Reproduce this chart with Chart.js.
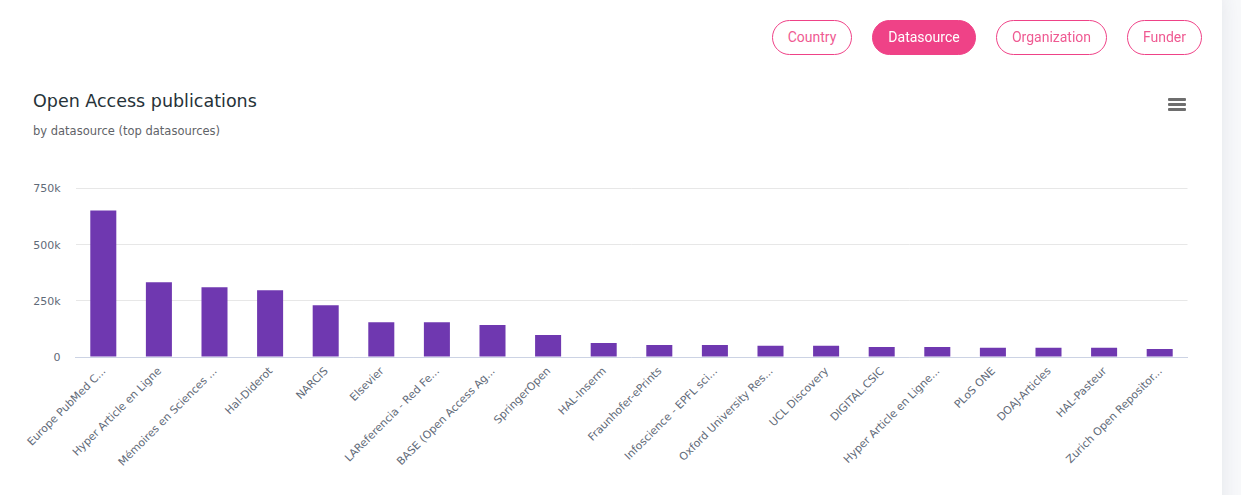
<!DOCTYPE html>
<html>
<head>
<meta charset="utf-8">
<title>Open Access publications</title>
<script src="https://cdn.jsdelivr.net/npm/chart.js@4"></script>
<style>
  html, body { margin: 0; padding: 0; width: 1241px; height: 495px; overflow: hidden; background: #f8f9fb; }
  #card { position: absolute; left: -20px; top: -8px; width: 1242px; height: 560px; background: #fff; border-radius: 10px; box-shadow: 0 0 22px rgba(40, 50, 80, 0.10); }
  #myChart { position: absolute; left: 0; top: 0; }
  .pill { position: absolute; top: 20px; height: 33px; line-height: 33px; text-align: center; box-sizing: content-box; border: 1px solid #ef4287; border-radius: 18px; color: #ef5a92; font: 14px/33px Roboto, sans-serif; background: #fff; }
  .pill.active { background: #ef4287; color: #fff; }
  .bar { position: absolute; left: 1168px; width: 18px; height: 3px; background: #6e6e6e; border-radius: 1px; }
</style>
</head>
<body>
<div id="card"></div>
<canvas id="myChart" width="1212" height="495"></canvas>
<div class="pill" style="left:772px;width:78px">Country</div>
<div class="pill active" style="left:872px;width:102px">Datasource</div>
<div class="pill" style="left:996px;width:109px">Organization</div>
<div class="pill" style="left:1127px;width:73px">Funder</div>
<div class="bar" style="top:98px"></div>
<div class="bar" style="top:103px"></div>
<div class="bar" style="top:108px"></div>
<script>
var datasources = ["Europe PubMed C...", "Hyper Article en Ligne", "Mémoires en Sciences ...", "Hal-Diderot", "NARCIS", "Elsevier",
  "LAReferencia - Red Fe...", "BASE (Open Access Ag...", "SpringerOpen", "HAL-Inserm", "Fraunhofer-ePrints",
  "Infoscience - EPFL sci...", "Oxford University Res...", "UCL Discovery", "DIGITAL.CSIC", "Hyper Article en Ligne...",
  "PLoS ONE", "DOAJ-Articles", "HAL-Pasteur", "Zurich Open Repositor..."];
var publications = [652000, 333000, 311000, 297000, 231000, 155000, 155000, 142000, 98000, 62000,
  53000, 53000, 50000, 50000, 45000, 45000, 41000, 41000, 41000, 36000];
var yTicks = [0, 250000, 500000, 750000];

// opaque canvas so the text gets the same subpixel look as the page
var ctx = document.getElementById('myChart').getContext('2d', { alpha: false });

var whiteBackground = {
  id: 'whiteBackground',
  beforeDraw: function(chart) {
    chart.ctx.save();
    chart.ctx.fillStyle = '#fff';
    chart.ctx.fillRect(0, 0, chart.width, chart.height);
    chart.ctx.restore();
  }
};

var myChart = new Chart(ctx, {
  type: 'bar',
  plugins: [whiteBackground],
  data: {
    labels: datasources,
    datasets: [{
      label: 'Open Access publications',
      data: publications,
      backgroundColor: '#6f38b0',
      borderWidth: 0,
      categoryPercentage: 1,
      barPercentage: 0.468
    }]
  },
  options: {
    responsive: false,
    animation: false,
    layout: {
      padding: { left: 33, right: 24.5, top: 92, bottom: 0 }
    },
    plugins: {
      legend: { display: false },
      tooltip: { enabled: false },
      title: {
        display: true,
        text: 'Open Access publications',
        align: 'start',
        color: '#263238',
        font: { family: '"DejaVu Sans"', size: 17.5, weight: 'normal' },
        padding: { top: 0, bottom: 12 }
      },
      subtitle: {
        display: true,
        text: 'by datasource (top datasources)',
        align: 'start',
        color: '#5f6368',
        font: { family: '"DejaVu Sans"', size: 11.5, weight: 'normal' },
        padding: { top: 0, bottom: 49.8 }
      }
    },
    scales: {
      x: {
        afterFit: function(scale) { scale.height = 138; },
        grid: { display: false, drawTicks: false },
        border: { color: '#ccd3e4', width: 1 },
        ticks: {
          autoSkip: false,
          minRotation: 45,
          maxRotation: 45,
          padding: 8,
          labelOffset: 1,
          color: '#5f6a78',
          font: { family: '"DejaVu Sans"', size: 10.8 }
        }
      },
      y: {
        min: 0,
        max: 750000,
        afterFit: function(scale) { scale.width = 42.5; },
        afterBuildTicks: function(scale) {
          scale.ticks = yTicks.map(function(v) { return { value: v }; });
        },
        grid: { color: '#e7e7e7', drawTicks: false },
        border: { display: false },
        ticks: {
          padding: 15,
          labelOffset: 1,
          color: '#5f6a78',
          font: { family: '"DejaVu Sans"', size: 11 },
          callback: function(value) { return value === 0 ? '0' : (value / 1000) + 'k'; }
        }
      }
    }
  }
});
</script>
</body>
</html>
